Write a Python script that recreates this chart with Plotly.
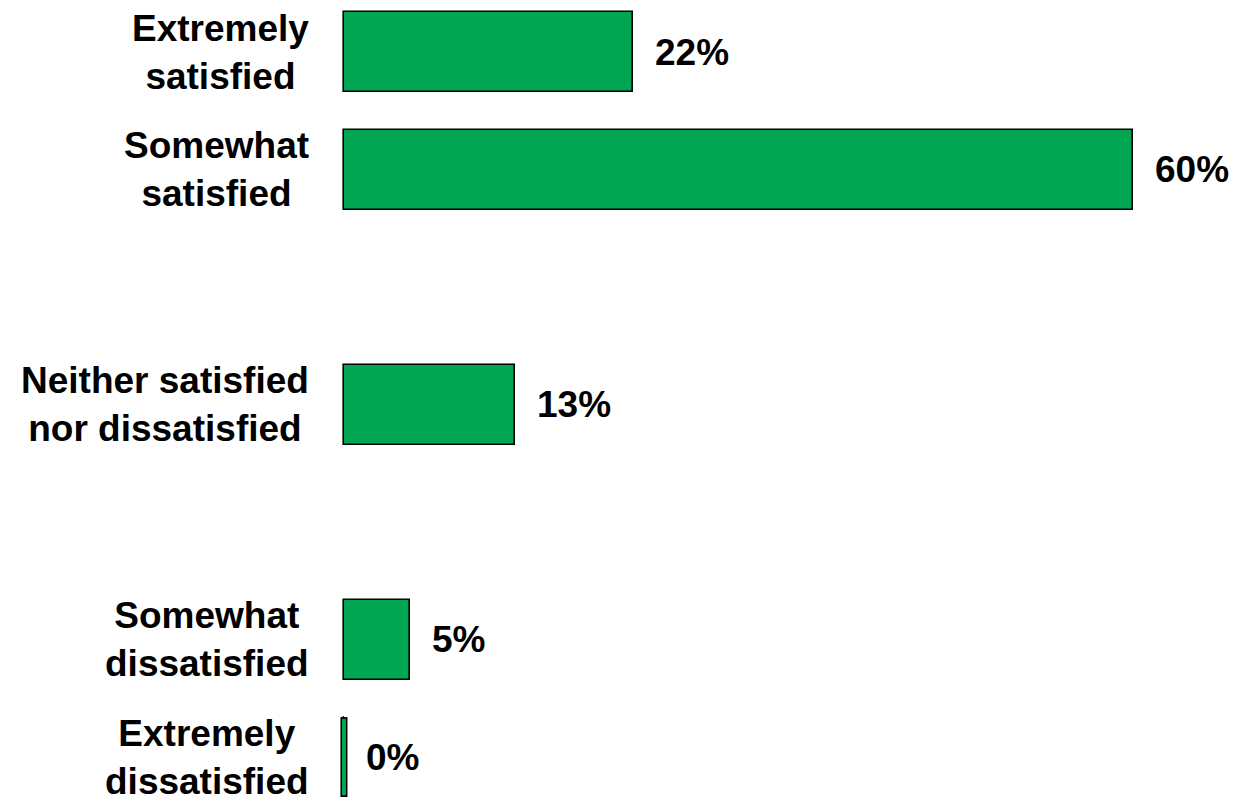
import plotly.graph_objects as go

# Satisfaction categories (top to bottom) and their slot positions on the y axis
categories = [
    "Extremely<br>satisfied",
    "Somewhat<br>satisfied",
    "Neither satisfied<br>nor dissatisfied",
    "Somewhat<br>dissatisfied",
    "Extremely<br>dissatisfied",
]
slots = [0, 1, 3, 5, 6]
percentages = [22, 60, 13, 5, 0]

FONT = "Liberation Sans, Arial, sans-serif"
GREEN = "#00A651"
FS = 37
BAR_W = 0.68

fig = go.Figure(
    go.Bar(
        x=percentages,
        y=slots,
        orientation="h",
        width=BAR_W,
        marker=dict(color=GREEN, line=dict(color="black", width=1.6)),
        hoverinfo="skip",
    )
)

# zero-valued bars get a thin outlined stub so the row is not empty
for v, s in zip(percentages, slots):
    if v == 0:
        ys = [s - BAR_W / 2, s + BAR_W / 2]
        fig.add_trace(go.Scatter(x=[v, v], y=ys, mode="lines",
                                 line=dict(color="black", width=7),
                                 hoverinfo="skip"))
        fig.add_trace(go.Scatter(x=[v, v], y=[ys[0] + 0.015, ys[1] - 0.015],
                                 mode="lines",
                                 line=dict(color=GREEN, width=4),
                                 hoverinfo="skip"))

annotations = []
# value labels to the right of each bar
for v, s in zip(percentages, slots):
    annotations.append(dict(
        x=v, y=s, xref="x", yref="y",
        text=f"<b>{v}%</b>", showarrow=False,
        xanchor="left", yanchor="middle", xshift=20,
        font=dict(family=FONT, size=FS, color="black"),
    ))

# category labels, lines centred on each other, block right-aligned to the axis
for cat, s in zip(categories, slots):
    annotations.append(dict(
        x=0, y=s, xref="x", yref="y",
        text=f"<b>{cat}</b>", showarrow=False,
        xanchor="right", yanchor="middle", align="center",
        xshift=-33,
        font=dict(family=FONT, size=FS, color="black"),
    ))

fig.update_layout(
    width=1236, height=801,
    margin=dict(l=340, r=1, t=0, b=0),
    paper_bgcolor="white", plot_bgcolor="white",
    showlegend=False,
    bargap=0,
    xaxis=dict(range=[-0.3, 67.75], visible=False, fixedrange=True),
    yaxis=dict(range=[6.374, -0.443], visible=False, fixedrange=True),
    annotations=annotations,
)

fig.write_html("out.html", config={"displayModeBar": False})
